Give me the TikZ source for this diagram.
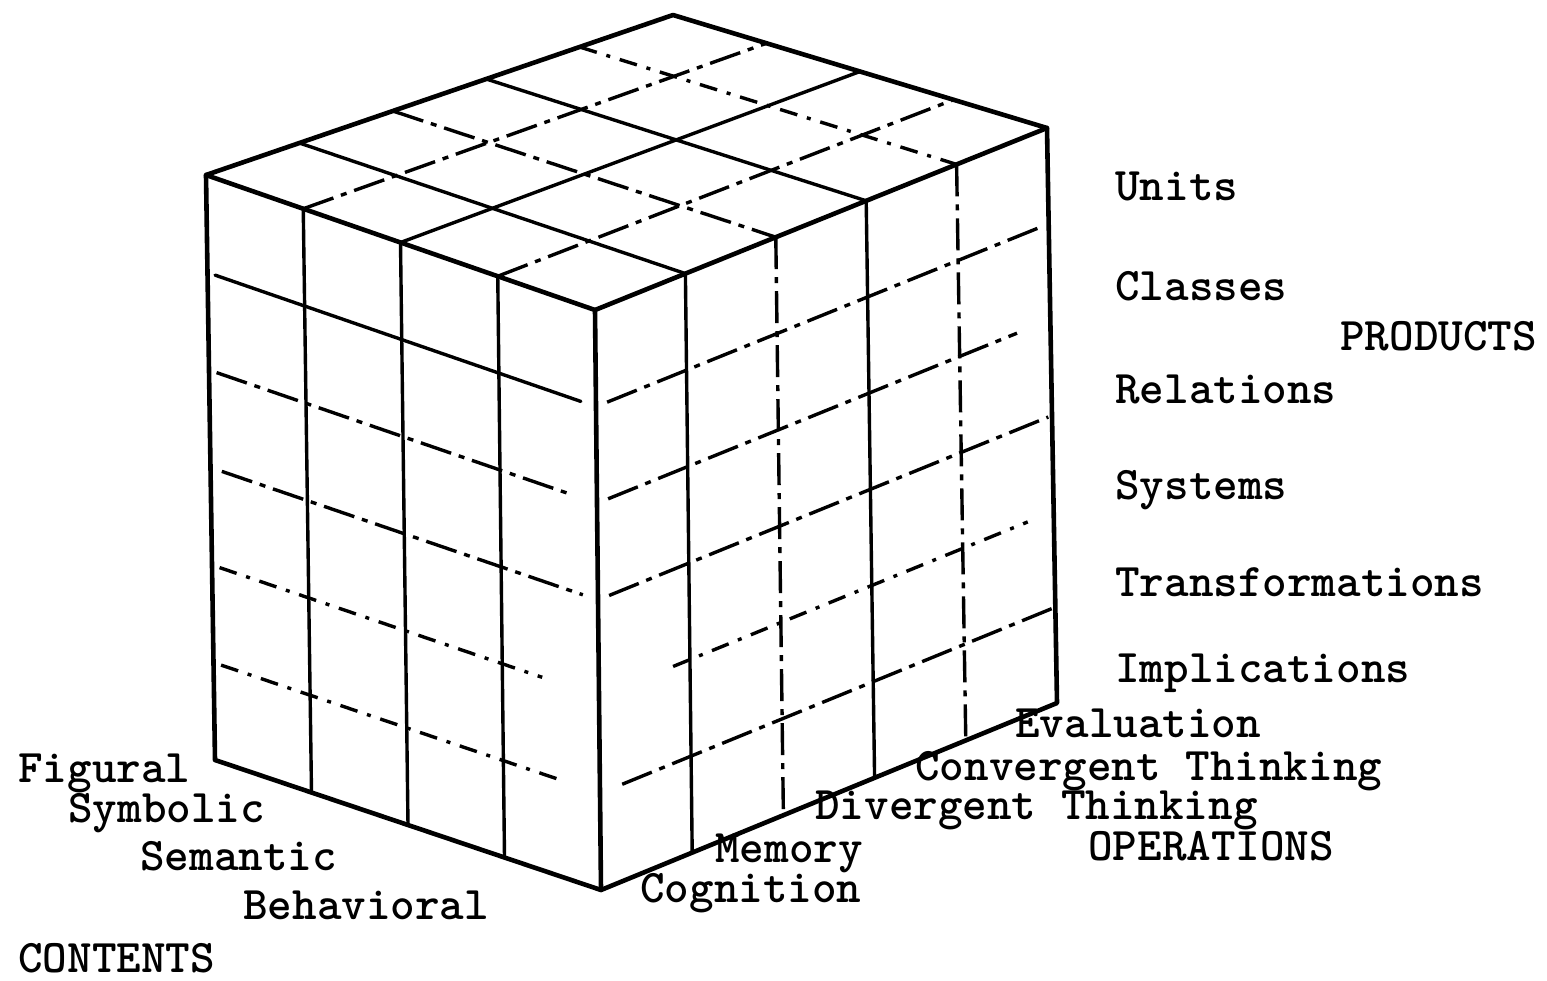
\documentclass[tikz,border=0pt]{standalone}
\usepackage{fontspec}
\usetikzlibrary{calc}
\begin{document}
\begin{tikzpicture}[x=0.5pt,y=-0.5pt,
  edge/.style={line width=2.3pt, line cap=round, line join=round},
  gsolid/.style={line width=1.7pt, line cap=round},
  gdash/.style={line width=1.7pt, dash pattern=on 16pt off 4pt on 3pt off 4pt},
  gdashb/.style={line width=1.7pt, dash pattern=on 9pt off 5pt on 2pt off 5pt},
  lbl/.style={anchor=base west, inner sep=0pt, font=\fontsize{23.4}{26}\selectfont\ttfamily\bfseries}]
\useasboundingbox (0,0) rectangle (1547,980);
% cube corners
\coordinate (L) at (206,175);
\coordinate (B) at (673,15);
\coordinate (R) at (1047,128);
\coordinate (F) at (595,310);
\coordinate (LB) at (215,760);
\coordinate (FB) at (601,890);
\coordinate (RB) at (1057,703);
% top face grid
\draw[gsolid] ($(L)!1/5!(B)$) -- ($(F)!1/5!(R)$);
\draw[gdash]  ($(L)!2/5!(B)$) -- ($(F)!2/5!(R)$);
\draw[gsolid] ($(L)!3/5!(B)$) -- ($(F)!3/5!(R)$);
\draw[gdashb] ($(L)!4/5!(B)$) -- ($(F)!4/5!(R)$);
\draw[gdash]  ($(L)!1/4!(F)$) -- ($(B)!1/4!(R)$);
\draw[gsolid] ($(L)!2/4!(F)$) -- ($(B)!2/4!(R)$);
\draw[gdash]  ($(L)!3/4!(F)$) -- ($(B)!3/4!(R)$);
% left face grid
\draw[gsolid] ($(L)!1/4!(F)$) -- ($(LB)!1/4!(FB)$);
\draw[gsolid] ($(L)!2/4!(F)$) -- ($(LB)!2/4!(FB)$);
\draw[gsolid] ($(L)!3/4!(F)$) -- ($(LB)!3/4!(FB)$);
\draw[gsolid, shorten <=4pt, shorten >=8pt] ($(L)!1/6!(LB)$) -- ($(F)!1/6!(FB)$);
\draw[gdash,  shorten <=4pt, shorten >=14pt] ($(L)!2/6!(LB)$) -- ($(F)!2/6!(FB)$);
\draw[gdash,  shorten <=6pt, shorten >=8pt] ($(L)!3/6!(LB)$) -- ($(F)!3/6!(FB)$);
\draw[gdashb, shorten <=4pt, shorten >=30pt] ($(L)!4/6!(LB)$) -- ($(F)!4/6!(FB)$);
\draw[gdashb, shorten <=4pt, shorten >=20pt] ($(L)!5/6!(LB)$) -- ($(F)!5/6!(FB)$);
% right face grid
\draw[gsolid] ($(F)!1/5!(R)$) -- ($(FB)!1/5!(RB)$);
\draw[gdash]  ($(F)!2/5!(R)$) -- ($(FB)!2/5!(RB)$);
\draw[gsolid] ($(F)!3/5!(R)$) -- ($(FB)!3/5!(RB)$);
\draw[gdash]  ($(F)!4/5!(R)$) -- ($(FB)!4/5!(RB)$);
\draw[gdash,  shorten <=6pt, shorten >=4pt] ($(F)!1/6!(FB)$) -- ($(R)!1/6!(RB)$);
\draw[gdash,  shorten <=6pt, shorten >=18pt] ($(F)!2/6!(FB)$) -- ($(R)!2/6!(RB)$);
\draw[gdash,  shorten <=6pt, shorten >=2pt] ($(F)!3/6!(FB)$) -- ($(R)!3/6!(RB)$);
\draw[gdashb, shorten <=40pt, shorten >=14pt] ($(F)!4/6!(FB)$) -- ($(R)!4/6!(RB)$);
\draw[gdash,  shorten <=12pt, shorten >=2pt] ($(F)!5/6!(FB)$) -- ($(R)!5/6!(RB)$);
% outer edges
\draw[edge] (LB) -- (L) -- (B) -- (R) -- (RB) -- (FB) -- (LB);
\draw[edge] (L) -- (F) -- (R);
\draw[edge] (F) -- (FB);
% products
\node[lbl] (units) at (1115,200) {Units};
\node[lbl] (classes) at (1115,300) {Classes};
\node[lbl] (products) at (1340,350) {PRODUCTS};
\node[lbl] (relations) at (1115,403) {Relations};
\node[lbl] (systems) at (1115,499) {Systems};
\node[lbl] (transf) at (1115,596) {Transformations};
\node[lbl] (impl) at (1115,682) {Implications};
% operations
\node[lbl] (eval) at (1015,737) {Evaluation};
\node[lbl] (conv) at (915,780) {Convergent Thinking};
\node[lbl] (div) at (815,819) {Divergent Thinking};
\node[lbl] (ops) at (1088,860) {OPERATIONS};
\node[lbl] (mem) at (715,862) {Memory};
\node[lbl] (cog) at (640,902) {Cognition};
% contents
\node[lbl] (fig) at (18,782) {Figural};
\node[lbl] (sym) at (68,822) {Symbolic};
\node[lbl] (sem) at (140,870) {Semantic};
\node[lbl] (beh) at (243,919) {Behavioral};
\node[lbl] (cont) at (18,972) {CONTENTS};
\end{tikzpicture}
\end{document}
